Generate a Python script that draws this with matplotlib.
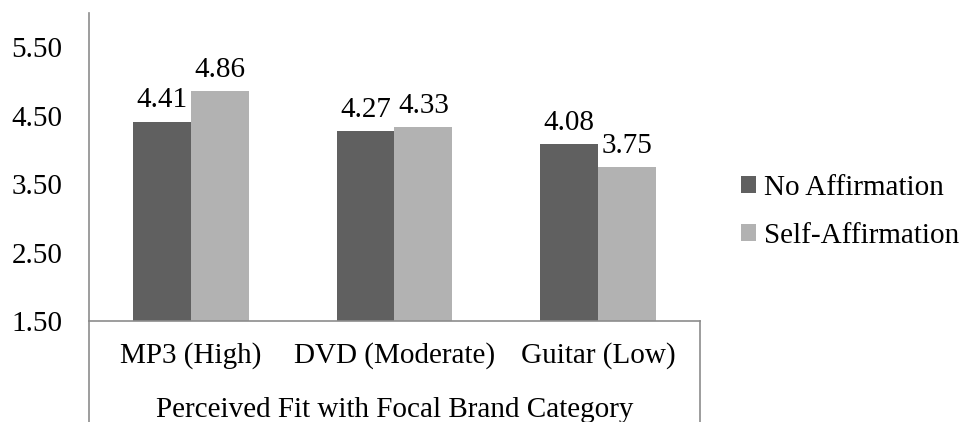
import matplotlib
matplotlib.use("Agg")
import matplotlib.pyplot as plt
import numpy as np

plt.rcParams['font.family'] = ['Liberation Serif', 'DejaVu Serif']

categories = ["MP3 (High)", "DVD (Moderate)", "Guitar (Low)"]
no_affirmation = [4.41, 4.27, 4.08]
self_affirmation = [4.86, 4.33, 3.75]
yticks = [1.5, 2.5, 3.5, 4.5, 5.5]

dark = "#606060"
light = "#b2b2b2"
axis_col = "#8c8c8c"
fs = 21

fig = plt.figure(figsize=(9.62, 4.22), dpi=100)
ax = fig.add_axes([89/962, 101/422, 611/962, 308/422])

x = np.arange(len(categories))
w = 0.284
b1 = ax.bar(x - w/2, np.array(no_affirmation) - 1.5, w, bottom=1.5, color=dark, label="No Affirmation")
b2 = ax.bar(x + w/2, np.array(self_affirmation) - 1.5, w, bottom=1.5, color=light, label="Self-Affirmation")

for bars, vals in [(b1, no_affirmation), (b2, self_affirmation)]:
    ax.bar_label(bars, labels=["%.2f" % v for v in vals], padding=6, fontsize=fs)

ax.set_xlim(-0.5, 2.5)
ax.set_ylim(1.5, 6.0)
ax.set_yticks(yticks)
ax.set_yticklabels(["%.2f" % v for v in yticks])
ax.set_xticks(x)
ax.set_xticklabels(categories)
ax.tick_params(axis='both', length=0, labelsize=fs)
ax.tick_params(axis='y', pad=19)
ax.tick_params(axis='x', pad=15)
ax.set_xlabel("Perceived Fit with Focal Brand Category", fontsize=fs, labelpad=20)

for s in ['top', 'right']:
    ax.spines[s].set_visible(False)
for s in ['left', 'bottom']:
    ax.spines[s].set_color(axis_col)
    ax.spines[s].set_linewidth(1.2)

# group boundary lines below the axis
for xa in [0, 1]:
    ax.plot([xa, xa], [0, -101/308], transform=ax.transAxes, color=axis_col,
            lw=1.2, clip_on=False)

fig.legend(handles=[b1, b2], loc='center left', bbox_to_anchor=(741/962, 1 - 212/422),
           frameon=False, fontsize=fs, handlelength=0.53, handleheight=0.53,
           handletextpad=0.25, labelspacing=0.75, borderpad=0, borderaxespad=0)

plt.savefig("out.png")
